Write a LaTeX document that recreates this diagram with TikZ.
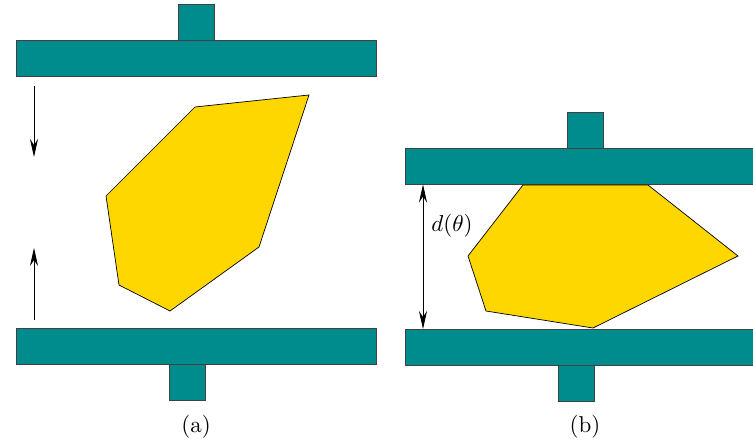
\documentclass[tikz,border=0pt]{standalone}
\usepackage{tikz}
\usetikzlibrary{arrows.meta, positioning}
\definecolor{plateteal}{RGB}{0,140,140}
\definecolor{partgold}{RGB}{255,215,0}

\begin{document}
\begin{tikzpicture}[x=1pt, y=-1pt,
    plate/.style={draw=black!75, fill=plateteal, line width=0.8pt, minimum width=360pt, minimum height=36pt, inner sep=0pt, outer sep=0pt},
    stub/.style={draw=black!75, fill=plateteal, line width=0.8pt, minimum width=36pt, minimum height=36pt, inner sep=0pt, outer sep=0pt},
    part/.style={draw=black, fill=partgold, line width=0.7pt, line join=miter},
    push/.style={-{Stealth[length=18pt,width=8pt,inset=6pt]}, line width=0.8pt},
    gap/.style={{Stealth[length=18pt,width=8pt,inset=6pt]}-{Stealth[length=18pt,width=8pt,inset=6pt]}, line width=0.8pt},
    caption/.style={scale=2.3}]
    \useasboundingbox (0,0) rectangle (753,443);
    \clip (0,0) rectangle (753,443);

    % (a) press still open
    \node[plate] (topA) at (196,58) {};
    \node[stub, above=0pt of topA] (stubTopA) {};
    \node[plate] (botA) at (196,346) {};
    \node[stub, below=0pt of botA, xshift=-9pt] (stubBotA) {};
    \draw[part] (195,107) -- (309,95) -- (259,247) -- (170,311) -- (119,285) -- (106,196) -- cycle;

    % closing arrows
    \coordinate (downS) at (34,86);
    \coordinate (downE) at (34,157);
    \coordinate (upS) at (34,320);
    \coordinate (upE) at (34,248);
    \draw[push] (downS) -- (downE);
    \draw[push] (upS) -- (upE);
    \node[caption] (capA) at (196,427) {(a)};

    % (b) press closed on the part
    \node[plate] (topB) at (585,166.5) {};
    \node[stub, above=0pt of topB] (stubTopB) {};
    \node[plate] (botB) at (585,347) {};
    \node[stub, below=0pt of botB, xshift=-9pt] (stubBotB) {};
    \draw[part] (523,185) -- (648,185) -- (738,256) -- (593,328) -- (486,311) -- (468,256) -- cycle;

    % gap width
    \coordinate (gapX) at (423,0);
    \draw[gap] (topB.south -| gapX) -- (botB.north -| gapX);
    \node[caption] (gapLabel) at (452,226) {$d(\theta)$};
    \node[caption] (capB) at (585,427) {(b)};
\end{tikzpicture}
\end{document}
